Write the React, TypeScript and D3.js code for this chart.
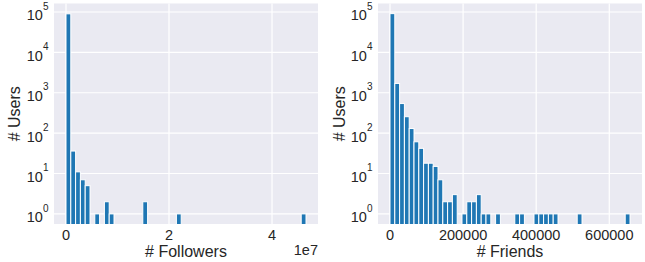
import React from 'react';
import * as d3 from 'd3';

// histogram counts per bin (50 equal bins from 0 to the max value)
const followersMax = 4.66e7;
const followersCounts = [
    90000, 36, 11, 7, 5, 0, 1, 0, 2, 1,
    0, 0, 0, 0, 0, 0, 2, 0, 0, 0,
    0, 0, 0, 1, 0, 0, 0, 0, 0, 0,
    0, 0, 0, 0, 0, 0, 0, 0, 0, 0,
    0, 0, 0, 0, 0, 0, 0, 0, 0, 1
];
const followersTicks = [0, 2e7, 4e7];
const followersTickLabels = ['0', '2', '4'];

const friendsMax = 656700;
const friendsCounts = [
    91000, 1700, 540, 255, 130, 61, 42, 18, 18, 15,
    7, 2, 2, 3, 0, 1, 2, 2, 3, 1,
    1, 0, 1, 0, 0, 0, 1, 1, 0, 0,
    1, 1, 1, 1, 1, 0, 0, 0, 0, 1,
    0, 0, 0, 0, 0, 0, 0, 0, 0, 1
];
const friendsTicks = [0, 200000, 400000, 600000];
const friendsTickLabels = ['0', '200000', '400000', '600000'];

const yExponents = [0, 1, 2, 3, 4, 5];

const FONT = '"Liberation Sans", Arial, sans-serif';
const TEXT = '#262626';

type PanelProps = {
    counts: number[];
    max: number;
    ticks: number[];
    tickLabels: string[];
    xLabel: string;
    offsetText?: string;
    left: number;
    right: number;
    yLabelX: number;
};

const TOP = 3.5;
const BOTTOM = 224;

function Panel(props: PanelProps) {
    const {counts, max, ticks, tickLabels, xLabel, offsetText, left, right, yLabelX} = props;

    const x = d3.scaleLinear().domain([-0.05 * max, 1.05 * max]).range([left, right]);
    const y = d3.scaleLog().domain([Math.pow(10, -0.25), Math.pow(10, 5.21)]).range([BOTTOM, TOP]);
    const binWidth = max / counts.length;

    return (
        <g>
            <rect x={left} y={TOP} width={right - left} height={BOTTOM - TOP} fill="#eaeaf2" />
            {/* grid */}
            {yExponents.map((e) => (
                <line key={'gy' + e} x1={left} x2={right} y1={y(Math.pow(10, e))} y2={y(Math.pow(10, e))}
                    stroke="#fff" strokeWidth={1.2} />
            ))}
            {ticks.map((t) => (
                <line key={'gx' + t} x1={x(t)} x2={x(t)} y1={TOP} y2={BOTTOM} stroke="#fff" strokeWidth={1.2} />
            ))}

            {/* bars */}
            {counts.map((c, i) => {
                if (c <= 0) return null;
                const x0 = x(i * binWidth);
                const x1 = x((i + 1) * binWidth);
                const top = y(c);
                return (
                    <rect key={'b' + i} x={x0} y={top} width={x1 - x0} height={BOTTOM - top + 2}
                        fill="#1f77b4" stroke="#fff" strokeWidth={1} />
                );
            })}
            {/* cover anything that overflows below the axes */}
            <rect x={left - 2} y={BOTTOM} width={right - left + 4} height={6} fill="#fff" />

            {/* y tick labels */}
            {yExponents.map((e) => (
                <text key={'ty' + e} x={left - 5.5} y={y(Math.pow(10, e)) + 8.4} textAnchor="end"
                    fontFamily={FONT} fontSize={14.5} fill={TEXT}>
                    10<tspan dy={-10.7} fontSize={10}>{e}</tspan>
                </text>
            ))}

            {/* x tick labels */}
            {ticks.map((t, i) => (
                <text key={'tx' + t} x={x(t)} y={240} textAnchor="middle"
                    fontFamily={FONT} fontSize={14.5} fill={TEXT}>
                    {tickLabels[i]}
                </text>
            ))}
            {offsetText && (
                <text x={right} y={255} textAnchor="end" fontFamily={FONT} fontSize={14.5} fill={TEXT}>
                    {offsetText}
                </text>
            )}

            {/* axis labels */}
            <text x={(left + right) / 2} y={257} textAnchor="middle" fontFamily={FONT} fontSize={16} fill={TEXT}>
                {xLabel}
            </text>
            <text transform={`translate(${yLabelX}, ${(TOP + BOTTOM) / 2}) rotate(-90)`} textAnchor="middle"
                fontFamily={FONT} fontSize={16} fill={TEXT}>
                # Users
            </text>
        </g>
    );
}

export default function App() {
    return (
        <svg width={645} height={262} style={{position: 'absolute', left: 0, top: 0, background: '#fff'}}>
            <Panel counts={followersCounts} max={followersMax} ticks={followersTicks}
                tickLabels={followersTickLabels} xLabel="# Followers" offsetText="1e7"
                left={54} right={318} yLabelX={20} />
            <Panel counts={friendsCounts} max={friendsMax} ticks={friendsTicks}
                tickLabels={friendsTickLabels} xLabel="# Friends"
                left={378} right={642} yLabelX={345} />
        </svg>
    );
}
